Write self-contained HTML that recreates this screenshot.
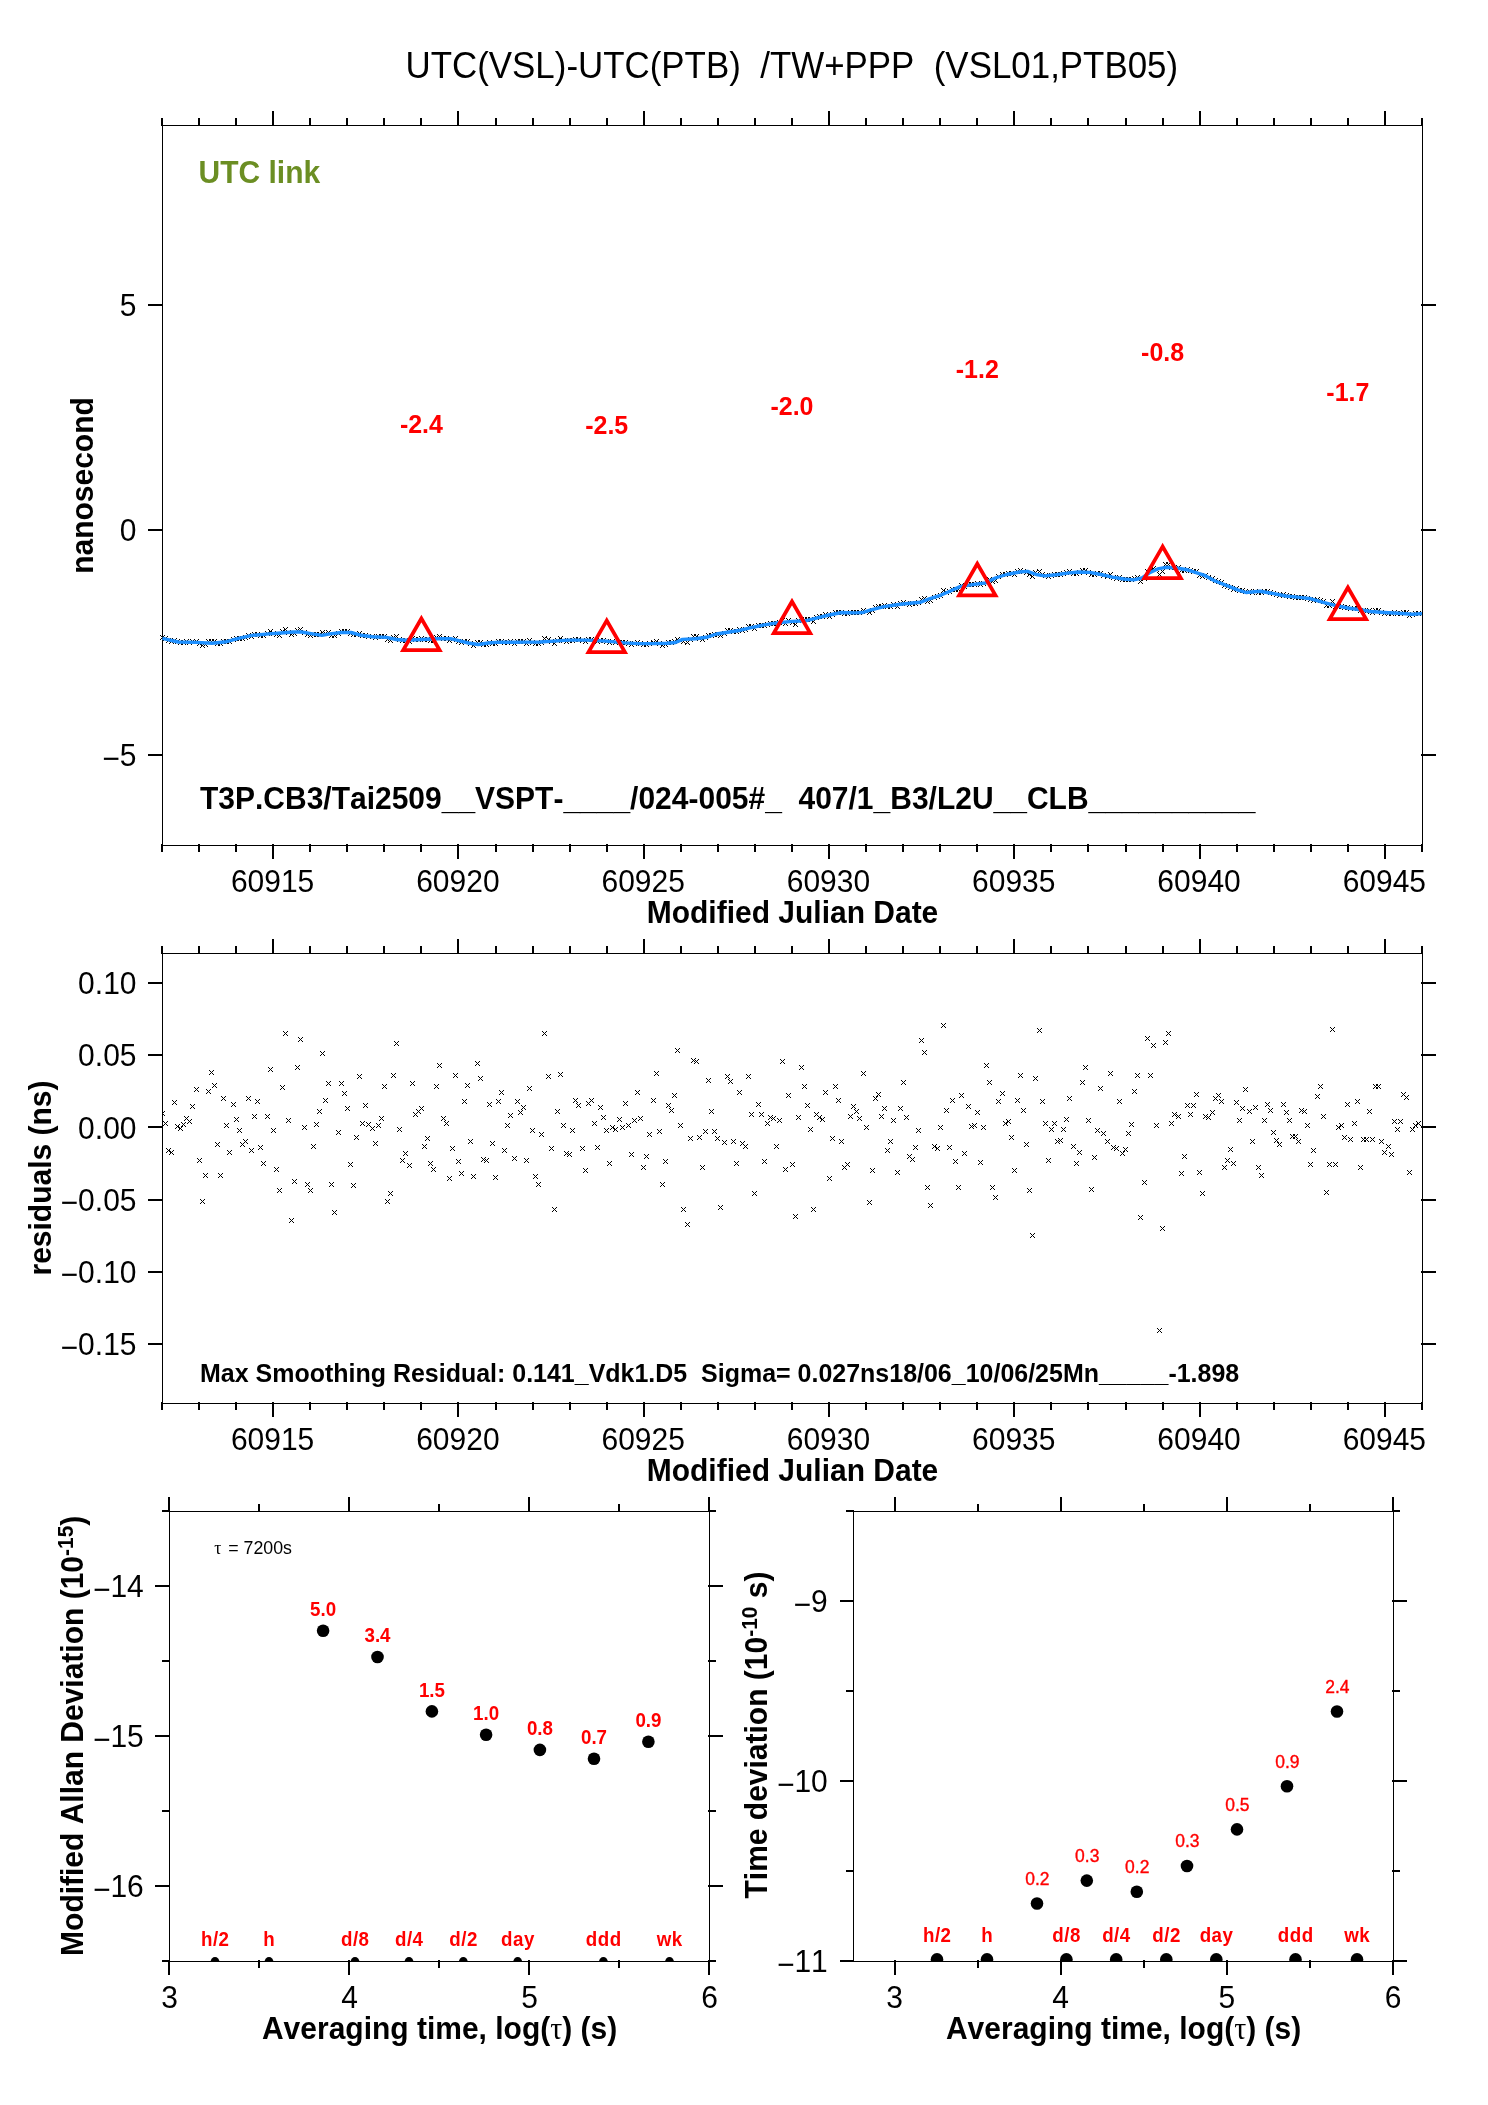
<!DOCTYPE html>
<html><head><meta charset="utf-8"><title>UTC(VSL)-UTC(PTB)</title>
<style>
html,body{margin:0;padding:0;background:#fff;}
svg{display:block;will-change:transform;font-family:"Liberation Sans",sans-serif;font-kerning:none;font-variant-ligatures:none;}
rect{shape-rendering:crispEdges;}
</style></head><body>
<svg width="1488" height="2105" viewBox="0 0 1488 2105">
<rect x="0" y="0" width="1488" height="2105" fill="#fff"/>
<defs><path id="x" d="M-2-2h1v1h-1zM-1-1h1v1h-1zM0 0h1v1h-1zM1 1h1v1h-1zM2 2h1v1h-1zM2-2h1v1h-1zM1-1h1v1h-1zM-1 1h1v1h-1zM-2 2h1v1h-1z" shape-rendering="crispEdges"/></defs>
<rect x="162" y="125" width="1261" height="1" fill="#000"/>
<rect x="162" y="845" width="1261" height="1" fill="#000"/>
<rect x="162" y="125" width="1" height="721" fill="#000"/>
<rect x="1422" y="125" width="1" height="721" fill="#000"/>
<rect x="161" y="118" width="2" height="8" fill="#000"/>
<rect x="198" y="118" width="2" height="8" fill="#000"/>
<rect x="235" y="118" width="2" height="8" fill="#000"/>
<rect x="309" y="118" width="2" height="8" fill="#000"/>
<rect x="346" y="118" width="2" height="8" fill="#000"/>
<rect x="383" y="118" width="2" height="8" fill="#000"/>
<rect x="420" y="118" width="2" height="8" fill="#000"/>
<rect x="495" y="118" width="2" height="8" fill="#000"/>
<rect x="532" y="118" width="2" height="8" fill="#000"/>
<rect x="569" y="118" width="2" height="8" fill="#000"/>
<rect x="606" y="118" width="2" height="8" fill="#000"/>
<rect x="680" y="118" width="2" height="8" fill="#000"/>
<rect x="717" y="118" width="2" height="8" fill="#000"/>
<rect x="754" y="118" width="2" height="8" fill="#000"/>
<rect x="791" y="118" width="2" height="8" fill="#000"/>
<rect x="865" y="118" width="2" height="8" fill="#000"/>
<rect x="902" y="118" width="2" height="8" fill="#000"/>
<rect x="939" y="118" width="2" height="8" fill="#000"/>
<rect x="976" y="118" width="2" height="8" fill="#000"/>
<rect x="1050" y="118" width="2" height="8" fill="#000"/>
<rect x="1087" y="118" width="2" height="8" fill="#000"/>
<rect x="1125" y="118" width="2" height="8" fill="#000"/>
<rect x="1162" y="118" width="2" height="8" fill="#000"/>
<rect x="1236" y="118" width="2" height="8" fill="#000"/>
<rect x="1273" y="118" width="2" height="8" fill="#000"/>
<rect x="1310" y="118" width="2" height="8" fill="#000"/>
<rect x="1347" y="118" width="2" height="8" fill="#000"/>
<rect x="1421" y="118" width="2" height="8" fill="#000"/>
<rect x="272" y="111" width="2" height="15" fill="#000"/>
<rect x="457" y="111" width="2" height="15" fill="#000"/>
<rect x="643" y="111" width="2" height="15" fill="#000"/>
<rect x="828" y="111" width="2" height="15" fill="#000"/>
<rect x="1013" y="111" width="2" height="15" fill="#000"/>
<rect x="1199" y="111" width="2" height="15" fill="#000"/>
<rect x="1384" y="111" width="2" height="15" fill="#000"/>
<rect x="161" y="844" width="2" height="8" fill="#000"/>
<rect x="198" y="844" width="2" height="8" fill="#000"/>
<rect x="235" y="844" width="2" height="8" fill="#000"/>
<rect x="309" y="844" width="2" height="8" fill="#000"/>
<rect x="346" y="844" width="2" height="8" fill="#000"/>
<rect x="383" y="844" width="2" height="8" fill="#000"/>
<rect x="420" y="844" width="2" height="8" fill="#000"/>
<rect x="495" y="844" width="2" height="8" fill="#000"/>
<rect x="532" y="844" width="2" height="8" fill="#000"/>
<rect x="569" y="844" width="2" height="8" fill="#000"/>
<rect x="606" y="844" width="2" height="8" fill="#000"/>
<rect x="680" y="844" width="2" height="8" fill="#000"/>
<rect x="717" y="844" width="2" height="8" fill="#000"/>
<rect x="754" y="844" width="2" height="8" fill="#000"/>
<rect x="791" y="844" width="2" height="8" fill="#000"/>
<rect x="865" y="844" width="2" height="8" fill="#000"/>
<rect x="902" y="844" width="2" height="8" fill="#000"/>
<rect x="939" y="844" width="2" height="8" fill="#000"/>
<rect x="976" y="844" width="2" height="8" fill="#000"/>
<rect x="1050" y="844" width="2" height="8" fill="#000"/>
<rect x="1087" y="844" width="2" height="8" fill="#000"/>
<rect x="1125" y="844" width="2" height="8" fill="#000"/>
<rect x="1162" y="844" width="2" height="8" fill="#000"/>
<rect x="1236" y="844" width="2" height="8" fill="#000"/>
<rect x="1273" y="844" width="2" height="8" fill="#000"/>
<rect x="1310" y="844" width="2" height="8" fill="#000"/>
<rect x="1347" y="844" width="2" height="8" fill="#000"/>
<rect x="1421" y="844" width="2" height="8" fill="#000"/>
<rect x="272" y="844" width="2" height="15" fill="#000"/>
<rect x="457" y="844" width="2" height="15" fill="#000"/>
<rect x="643" y="844" width="2" height="15" fill="#000"/>
<rect x="828" y="844" width="2" height="15" fill="#000"/>
<rect x="1013" y="844" width="2" height="15" fill="#000"/>
<rect x="1199" y="844" width="2" height="15" fill="#000"/>
<rect x="1384" y="844" width="2" height="15" fill="#000"/>
<rect x="148" y="304" width="15" height="2" fill="#000"/>
<rect x="148" y="529" width="15" height="2" fill="#000"/>
<rect x="148" y="754" width="15" height="2" fill="#000"/>
<rect x="1421" y="304" width="15" height="2" fill="#000"/>
<rect x="1421" y="529" width="15" height="2" fill="#000"/>
<rect x="1421" y="754" width="15" height="2" fill="#000"/>
<text transform="translate(136.5 316.3) scale(1 1.045)" font-size="30" text-anchor="end" fill="#000" >5</text>
<text transform="translate(136.5 541.3) scale(1 1.045)" font-size="30" text-anchor="end" fill="#000" >0</text>
<text transform="translate(136.5 766.3) scale(1 1.045)" font-size="30" text-anchor="end" fill="#000" ><tspan dy="2.3">−</tspan><tspan dy="-2.3">5</tspan></text>
<text transform="translate(272.5764705882353 891.9) scale(1 1.045)" font-size="30" text-anchor="middle" fill="#000" >60915</text>
<text transform="translate(457.8705882352941 891.9) scale(1 1.045)" font-size="30" text-anchor="middle" fill="#000" >60920</text>
<text transform="translate(643.1647058823529 891.9) scale(1 1.045)" font-size="30" text-anchor="middle" fill="#000" >60925</text>
<text transform="translate(828.4588235294117 891.9) scale(1 1.045)" font-size="30" text-anchor="middle" fill="#000" >60930</text>
<text transform="translate(1013.7529411764706 891.9) scale(1 1.045)" font-size="30" text-anchor="middle" fill="#000" >60935</text>
<text transform="translate(1199.0470588235296 891.9) scale(1 1.045)" font-size="30" text-anchor="middle" fill="#000" >60940</text>
<text transform="translate(1384.3411764705884 891.9) scale(1 1.045)" font-size="30" text-anchor="middle" fill="#000" >60945</text>
<text transform="translate(792.5 922.8) scale(1 1.045)" font-size="30" font-weight="bold" text-anchor="middle" fill="#000" >Modified Julian Date</text>
<text transform="translate(93 485.5) rotate(-90) scale(1 1.045)" font-size="30" font-weight="bold" text-anchor="middle" fill="#000" >nanosecond</text>
<text transform="translate(791.8 77.7) scale(1 1.045)" font-size="34.9" text-anchor="middle" fill="#000" >UTC(VSL)-UTC(PTB)&#160;&#160;/TW+PPP&#160;&#160;(VSL01,PTB05)</text>
<text transform="translate(198.5 182.8) scale(1 1.045)" font-size="30" font-weight="bold" text-anchor="start" fill="#6b8e23" >UTC link</text>
<text transform="translate(200 809) scale(1 1.045)" font-size="30" font-weight="bold" text-anchor="start" fill="#000" >T3P.CB3/Tai2509__VSPT-____/024-005#_&#160;&#160;407/1_B3/L2U__CLB__________</text>
<use href="#x" x="162" y="637"/><use href="#x" x="165" y="638"/><use href="#x" x="168" y="640"/><use href="#x" x="171" y="641"/><use href="#x" x="174" y="640"/><use href="#x" x="177" y="641"/><use href="#x" x="180" y="642"/><use href="#x" x="183" y="642"/><use href="#x" x="186" y="641"/><use href="#x" x="189" y="642"/><use href="#x" x="192" y="641"/><use href="#x" x="196" y="641"/><use href="#x" x="199" y="643"/><use href="#x" x="202" y="645"/><use href="#x" x="205" y="644"/><use href="#x" x="208" y="641"/><use href="#x" x="211" y="641"/><use href="#x" x="214" y="641"/><use href="#x" x="217" y="643"/><use href="#x" x="220" y="643"/><use href="#x" x="223" y="641"/><use href="#x" x="226" y="641"/><use href="#x" x="229" y="641"/><use href="#x" x="233" y="639"/><use href="#x" x="236" y="638"/><use href="#x" x="239" y="638"/><use href="#x" x="242" y="638"/><use href="#x" x="245" y="637"/><use href="#x" x="248" y="635"/><use href="#x" x="251" y="636"/><use href="#x" x="254" y="634"/><use href="#x" x="257" y="634"/><use href="#x" x="260" y="635"/><use href="#x" x="263" y="635"/><use href="#x" x="267" y="633"/><use href="#x" x="270" y="631"/><use href="#x" x="273" y="633"/><use href="#x" x="276" y="634"/><use href="#x" x="279" y="635"/><use href="#x" x="282" y="631"/><use href="#x" x="285" y="629"/><use href="#x" x="288" y="632"/><use href="#x" x="291" y="634"/><use href="#x" x="294" y="633"/><use href="#x" x="297" y="630"/><use href="#x" x="300" y="629"/><use href="#x" x="304" y="632"/><use href="#x" x="307" y="634"/><use href="#x" x="310" y="635"/><use href="#x" x="313" y="634"/><use href="#x" x="316" y="634"/><use href="#x" x="319" y="634"/><use href="#x" x="322" y="632"/><use href="#x" x="325" y="633"/><use href="#x" x="328" y="632"/><use href="#x" x="331" y="635"/><use href="#x" x="334" y="635"/><use href="#x" x="338" y="633"/><use href="#x" x="341" y="631"/><use href="#x" x="344" y="631"/><use href="#x" x="347" y="631"/><use href="#x" x="350" y="633"/><use href="#x" x="353" y="634"/><use href="#x" x="356" y="634"/><use href="#x" x="359" y="633"/><use href="#x" x="362" y="635"/><use href="#x" x="365" y="635"/><use href="#x" x="368" y="636"/><use href="#x" x="372" y="636"/><use href="#x" x="375" y="637"/><use href="#x" x="378" y="636"/><use href="#x" x="381" y="636"/><use href="#x" x="384" y="636"/><use href="#x" x="387" y="639"/><use href="#x" x="390" y="640"/><use href="#x" x="393" y="637"/><use href="#x" x="396" y="636"/><use href="#x" x="399" y="639"/><use href="#x" x="402" y="640"/><use href="#x" x="405" y="640"/><use href="#x" x="409" y="641"/><use href="#x" x="412" y="638"/><use href="#x" x="415" y="639"/><use href="#x" x="418" y="639"/><use href="#x" x="421" y="638"/><use href="#x" x="424" y="639"/><use href="#x" x="427" y="639"/><use href="#x" x="430" y="640"/><use href="#x" x="433" y="640"/><use href="#x" x="436" y="637"/><use href="#x" x="439" y="636"/><use href="#x" x="443" y="638"/><use href="#x" x="446" y="638"/><use href="#x" x="449" y="640"/><use href="#x" x="452" y="639"/><use href="#x" x="455" y="638"/><use href="#x" x="458" y="641"/><use href="#x" x="461" y="642"/><use href="#x" x="464" y="641"/><use href="#x" x="467" y="641"/><use href="#x" x="470" y="643"/><use href="#x" x="473" y="645"/><use href="#x" x="477" y="642"/><use href="#x" x="480" y="642"/><use href="#x" x="483" y="644"/><use href="#x" x="486" y="644"/><use href="#x" x="489" y="642"/><use href="#x" x="492" y="643"/><use href="#x" x="495" y="643"/><use href="#x" x="498" y="641"/><use href="#x" x="501" y="641"/><use href="#x" x="504" y="642"/><use href="#x" x="507" y="642"/><use href="#x" x="510" y="641"/><use href="#x" x="514" y="643"/><use href="#x" x="517" y="641"/><use href="#x" x="520" y="641"/><use href="#x" x="523" y="641"/><use href="#x" x="526" y="643"/><use href="#x" x="529" y="640"/><use href="#x" x="532" y="642"/><use href="#x" x="535" y="643"/><use href="#x" x="538" y="643"/><use href="#x" x="541" y="642"/><use href="#x" x="544" y="638"/><use href="#x" x="548" y="639"/><use href="#x" x="551" y="641"/><use href="#x" x="554" y="643"/><use href="#x" x="557" y="640"/><use href="#x" x="560" y="638"/><use href="#x" x="563" y="640"/><use href="#x" x="566" y="641"/><use href="#x" x="569" y="640"/><use href="#x" x="572" y="640"/><use href="#x" x="575" y="639"/><use href="#x" x="578" y="639"/><use href="#x" x="582" y="640"/><use href="#x" x="585" y="641"/><use href="#x" x="588" y="639"/><use href="#x" x="591" y="639"/><use href="#x" x="594" y="640"/><use href="#x" x="597" y="641"/><use href="#x" x="600" y="640"/><use href="#x" x="603" y="640"/><use href="#x" x="606" y="641"/><use href="#x" x="609" y="642"/><use href="#x" x="612" y="641"/><use href="#x" x="615" y="642"/><use href="#x" x="619" y="642"/><use href="#x" x="622" y="642"/><use href="#x" x="625" y="642"/><use href="#x" x="628" y="643"/><use href="#x" x="631" y="644"/><use href="#x" x="634" y="643"/><use href="#x" x="637" y="642"/><use href="#x" x="640" y="643"/><use href="#x" x="643" y="644"/><use href="#x" x="646" y="644"/><use href="#x" x="649" y="643"/><use href="#x" x="653" y="642"/><use href="#x" x="656" y="641"/><use href="#x" x="659" y="643"/><use href="#x" x="662" y="645"/><use href="#x" x="665" y="644"/><use href="#x" x="668" y="642"/><use href="#x" x="671" y="642"/><use href="#x" x="674" y="641"/><use href="#x" x="677" y="639"/><use href="#x" x="680" y="640"/><use href="#x" x="683" y="641"/><use href="#x" x="687" y="642"/><use href="#x" x="690" y="639"/><use href="#x" x="693" y="636"/><use href="#x" x="696" y="636"/><use href="#x" x="699" y="638"/><use href="#x" x="702" y="639"/><use href="#x" x="705" y="637"/><use href="#x" x="708" y="635"/><use href="#x" x="711" y="635"/><use href="#x" x="714" y="634"/><use href="#x" x="717" y="634"/><use href="#x" x="720" y="635"/><use href="#x" x="724" y="633"/><use href="#x" x="727" y="630"/><use href="#x" x="730" y="630"/><use href="#x" x="733" y="631"/><use href="#x" x="736" y="631"/><use href="#x" x="739" y="629"/><use href="#x" x="742" y="630"/><use href="#x" x="745" y="629"/><use href="#x" x="748" y="626"/><use href="#x" x="751" y="626"/><use href="#x" x="754" y="628"/><use href="#x" x="758" y="625"/><use href="#x" x="761" y="625"/><use href="#x" x="764" y="625"/><use href="#x" x="767" y="624"/><use href="#x" x="770" y="623"/><use href="#x" x="773" y="623"/><use href="#x" x="776" y="623"/><use href="#x" x="779" y="622"/><use href="#x" x="782" y="620"/><use href="#x" x="785" y="623"/><use href="#x" x="788" y="620"/><use href="#x" x="792" y="622"/><use href="#x" x="795" y="624"/><use href="#x" x="798" y="620"/><use href="#x" x="801" y="619"/><use href="#x" x="804" y="619"/><use href="#x" x="807" y="619"/><use href="#x" x="810" y="619"/><use href="#x" x="813" y="621"/><use href="#x" x="816" y="617"/><use href="#x" x="819" y="616"/><use href="#x" x="822" y="616"/><use href="#x" x="825" y="614"/><use href="#x" x="829" y="616"/><use href="#x" x="832" y="614"/><use href="#x" x="835" y="612"/><use href="#x" x="838" y="612"/><use href="#x" x="841" y="612"/><use href="#x" x="844" y="613"/><use href="#x" x="847" y="613"/><use href="#x" x="850" y="612"/><use href="#x" x="853" y="612"/><use href="#x" x="856" y="612"/><use href="#x" x="859" y="612"/><use href="#x" x="863" y="610"/><use href="#x" x="866" y="611"/><use href="#x" x="869" y="612"/><use href="#x" x="872" y="610"/><use href="#x" x="875" y="607"/><use href="#x" x="878" y="606"/><use href="#x" x="881" y="606"/><use href="#x" x="884" y="605"/><use href="#x" x="887" y="606"/><use href="#x" x="890" y="606"/><use href="#x" x="893" y="604"/><use href="#x" x="897" y="606"/><use href="#x" x="900" y="603"/><use href="#x" x="903" y="602"/><use href="#x" x="906" y="603"/><use href="#x" x="909" y="604"/><use href="#x" x="912" y="603"/><use href="#x" x="915" y="603"/><use href="#x" x="918" y="602"/><use href="#x" x="921" y="599"/><use href="#x" x="924" y="598"/><use href="#x" x="927" y="601"/><use href="#x" x="930" y="600"/><use href="#x" x="934" y="597"/><use href="#x" x="937" y="596"/><use href="#x" x="940" y="595"/><use href="#x" x="943" y="590"/><use href="#x" x="946" y="592"/><use href="#x" x="949" y="591"/><use href="#x" x="952" y="589"/><use href="#x" x="955" y="589"/><use href="#x" x="958" y="589"/><use href="#x" x="961" y="585"/><use href="#x" x="964" y="586"/><use href="#x" x="968" y="584"/><use href="#x" x="971" y="584"/><use href="#x" x="974" y="584"/><use href="#x" x="977" y="583"/><use href="#x" x="980" y="584"/><use href="#x" x="983" y="583"/><use href="#x" x="986" y="580"/><use href="#x" x="989" y="579"/><use href="#x" x="992" y="581"/><use href="#x" x="995" y="580"/><use href="#x" x="998" y="576"/><use href="#x" x="1002" y="574"/><use href="#x" x="1005" y="574"/><use href="#x" x="1008" y="573"/><use href="#x" x="1011" y="573"/><use href="#x" x="1014" y="574"/><use href="#x" x="1017" y="571"/><use href="#x" x="1020" y="570"/><use href="#x" x="1023" y="571"/><use href="#x" x="1026" y="572"/><use href="#x" x="1029" y="574"/><use href="#x" x="1032" y="576"/><use href="#x" x="1035" y="572"/><use href="#x" x="1039" y="571"/><use href="#x" x="1042" y="574"/><use href="#x" x="1045" y="575"/><use href="#x" x="1048" y="576"/><use href="#x" x="1051" y="575"/><use href="#x" x="1054" y="574"/><use href="#x" x="1057" y="574"/><use href="#x" x="1060" y="574"/><use href="#x" x="1063" y="573"/><use href="#x" x="1066" y="572"/><use href="#x" x="1069" y="571"/><use href="#x" x="1073" y="573"/><use href="#x" x="1076" y="573"/><use href="#x" x="1079" y="572"/><use href="#x" x="1082" y="570"/><use href="#x" x="1085" y="570"/><use href="#x" x="1088" y="572"/><use href="#x" x="1091" y="574"/><use href="#x" x="1094" y="574"/><use href="#x" x="1097" y="573"/><use href="#x" x="1100" y="573"/><use href="#x" x="1103" y="575"/><use href="#x" x="1107" y="576"/><use href="#x" x="1110" y="574"/><use href="#x" x="1113" y="577"/><use href="#x" x="1116" y="578"/><use href="#x" x="1119" y="577"/><use href="#x" x="1122" y="579"/><use href="#x" x="1125" y="579"/><use href="#x" x="1128" y="579"/><use href="#x" x="1131" y="579"/><use href="#x" x="1134" y="578"/><use href="#x" x="1137" y="577"/><use href="#x" x="1140" y="581"/><use href="#x" x="1144" y="578"/><use href="#x" x="1147" y="571"/><use href="#x" x="1150" y="570"/><use href="#x" x="1153" y="568"/><use href="#x" x="1156" y="569"/><use href="#x" x="1159" y="574"/><use href="#x" x="1162" y="571"/><use href="#x" x="1165" y="564"/><use href="#x" x="1168" y="564"/><use href="#x" x="1171" y="567"/><use href="#x" x="1174" y="567"/><use href="#x" x="1178" y="567"/><use href="#x" x="1181" y="570"/><use href="#x" x="1184" y="570"/><use href="#x" x="1187" y="569"/><use href="#x" x="1190" y="570"/><use href="#x" x="1193" y="571"/><use href="#x" x="1196" y="571"/><use href="#x" x="1199" y="575"/><use href="#x" x="1202" y="576"/><use href="#x" x="1205" y="575"/><use href="#x" x="1208" y="577"/><use href="#x" x="1212" y="578"/><use href="#x" x="1215" y="580"/><use href="#x" x="1218" y="581"/><use href="#x" x="1221" y="582"/><use href="#x" x="1224" y="585"/><use href="#x" x="1227" y="586"/><use href="#x" x="1230" y="587"/><use href="#x" x="1233" y="589"/><use href="#x" x="1236" y="588"/><use href="#x" x="1239" y="590"/><use href="#x" x="1242" y="590"/><use href="#x" x="1245" y="591"/><use href="#x" x="1249" y="591"/><use href="#x" x="1252" y="592"/><use href="#x" x="1255" y="591"/><use href="#x" x="1258" y="592"/><use href="#x" x="1261" y="592"/><use href="#x" x="1264" y="591"/><use href="#x" x="1267" y="591"/><use href="#x" x="1270" y="592"/><use href="#x" x="1273" y="593"/><use href="#x" x="1276" y="594"/><use href="#x" x="1279" y="595"/><use href="#x" x="1283" y="594"/><use href="#x" x="1286" y="595"/><use href="#x" x="1289" y="596"/><use href="#x" x="1292" y="596"/><use href="#x" x="1295" y="597"/><use href="#x" x="1298" y="597"/><use href="#x" x="1301" y="597"/><use href="#x" x="1304" y="597"/><use href="#x" x="1307" y="598"/><use href="#x" x="1310" y="599"/><use href="#x" x="1313" y="600"/><use href="#x" x="1317" y="599"/><use href="#x" x="1320" y="600"/><use href="#x" x="1323" y="601"/><use href="#x" x="1326" y="605"/><use href="#x" x="1329" y="605"/><use href="#x" x="1332" y="601"/><use href="#x" x="1335" y="606"/><use href="#x" x="1338" y="606"/><use href="#x" x="1341" y="606"/><use href="#x" x="1344" y="607"/><use href="#x" x="1347" y="607"/><use href="#x" x="1350" y="608"/><use href="#x" x="1354" y="608"/><use href="#x" x="1357" y="608"/><use href="#x" x="1360" y="610"/><use href="#x" x="1363" y="610"/><use href="#x" x="1366" y="611"/><use href="#x" x="1369" y="610"/><use href="#x" x="1372" y="612"/><use href="#x" x="1375" y="610"/><use href="#x" x="1378" y="610"/><use href="#x" x="1381" y="612"/><use href="#x" x="1384" y="613"/><use href="#x" x="1388" y="613"/><use href="#x" x="1391" y="613"/><use href="#x" x="1394" y="612"/><use href="#x" x="1397" y="613"/><use href="#x" x="1400" y="613"/><use href="#x" x="1403" y="612"/><use href="#x" x="1406" y="612"/><use href="#x" x="1409" y="615"/><use href="#x" x="1412" y="614"/><use href="#x" x="1415" y="613"/><use href="#x" x="1418" y="613"/>
<polyline points="162.4,638.4 178.1,642.0 196.3,642.4 212.0,643.3 226.5,641.7 238.6,638.4 251.9,635.4 268.8,633.9 280.9,633.0 293.0,632.0 301.5,632.0 311.2,633.6 322.0,635.4 330.0,633.9 341.3,632.5 351.2,632.5 361.0,635.3 372.3,636.7 386.4,637.4 396.3,639.5 406.2,640.2 421.7,639.5 437.3,638.8 451.4,638.8 459.8,640.9 468.3,643.0 478.2,644.5 488.1,643.0 499.3,642.1 513.5,642.3 527.6,642.1 540.0,642.0 554.1,641.1 568.2,640.1 586.6,640.1 606.3,641.1 624.7,642.9 638.8,643.6 652.9,643.6 667.0,643.3 675.5,642.5 682.5,639.4 695.2,638.7 706.5,637.3 716.4,634.0 727.7,632.3 740.4,630.2 750.0,627.8 764.1,624.9 778.2,622.8 792.3,621.4 806.4,620.7 816.3,618.1 829.0,615.0 841.7,612.5 855.8,612.9 862.9,612.5 870.0,610.1 884.1,606.6 898.2,604.5 912.3,603.0 920.8,602.3 929.2,598.8 940.5,595.3 950.4,591.0 960.0,586.6 974.1,584.4 985.4,583.0 995.3,578.0 1006.6,574.5 1019.3,572.0 1027.7,571.4 1036.2,574.5 1044.7,575.9 1056.0,574.8 1067.3,573.1 1078.5,572.0 1089.8,572.4 1101.1,574.5 1112.4,577.1 1123.7,579.0 1133.6,579.9 1142.0,578.0 1149.1,573.1 1157.6,568.9 1166.0,567.3 1176.0,568.0 1187.4,569.8 1204.8,575.4 1215.0,581.0 1226.3,585.4 1237.6,589.9 1246.0,592.5 1260.2,591.3 1271.4,593.2 1285.6,596.0 1299.7,597.4 1311.0,598.8 1322.3,602.1 1335.0,605.4 1347.7,608.0 1360.4,609.7 1370.2,611.5 1384.3,612.5 1398.5,613.3 1412.6,614.3 1422.0,613.6" fill="none" stroke="#1e90ff" stroke-width="3.4" stroke-linejoin="round"/>
<polygon points="421.4,618.5 403.2,650.0 439.6,650.0" fill="none" stroke="#f00" stroke-width="3.75"/>
<text transform="translate(421.4117647058824 433.1) scale(1 1.045)" font-size="25" font-weight="bold" text-anchor="middle" fill="#f00" >-2.4</text>
<polygon points="606.7,620.6 588.5,652.1 624.9,652.1" fill="none" stroke="#f00" stroke-width="3.75"/>
<text transform="translate(606.7058823529412 433.8) scale(1 1.045)" font-size="25" font-weight="bold" text-anchor="middle" fill="#f00" >-2.5</text>
<polygon points="792.0,601.5 773.8,633.0 810.2,633.0" fill="none" stroke="#f00" stroke-width="3.75"/>
<text transform="translate(792.0 414.7) scale(1 1.045)" font-size="25" font-weight="bold" text-anchor="middle" fill="#f00" >-2.0</text>
<polygon points="977.3,563.8 959.1,595.3 995.5,595.3" fill="none" stroke="#f00" stroke-width="3.75"/>
<text transform="translate(977.2941176470588 377.7) scale(1 1.045)" font-size="25" font-weight="bold" text-anchor="middle" fill="#f00" >-1.2</text>
<polygon points="1162.6,546.6 1144.4,578.1 1180.8,578.1" fill="none" stroke="#f00" stroke-width="3.75"/>
<text transform="translate(1162.5882352941176 360.5) scale(1 1.045)" font-size="25" font-weight="bold" text-anchor="middle" fill="#f00" >-0.8</text>
<polygon points="1347.9,587.5 1329.7,619.0 1366.1,619.0" fill="none" stroke="#f00" stroke-width="3.75"/>
<text transform="translate(1347.8823529411766 400.5) scale(1 1.045)" font-size="25" font-weight="bold" text-anchor="middle" fill="#f00" >-1.7</text>
<rect x="162" y="953" width="1261" height="1" fill="#000"/>
<rect x="162" y="1403" width="1261" height="1" fill="#000"/>
<rect x="162" y="953" width="1" height="451" fill="#000"/>
<rect x="1422" y="953" width="1" height="451" fill="#000"/>
<rect x="161" y="946" width="2" height="8" fill="#000"/>
<rect x="198" y="946" width="2" height="8" fill="#000"/>
<rect x="235" y="946" width="2" height="8" fill="#000"/>
<rect x="309" y="946" width="2" height="8" fill="#000"/>
<rect x="346" y="946" width="2" height="8" fill="#000"/>
<rect x="383" y="946" width="2" height="8" fill="#000"/>
<rect x="420" y="946" width="2" height="8" fill="#000"/>
<rect x="495" y="946" width="2" height="8" fill="#000"/>
<rect x="532" y="946" width="2" height="8" fill="#000"/>
<rect x="569" y="946" width="2" height="8" fill="#000"/>
<rect x="606" y="946" width="2" height="8" fill="#000"/>
<rect x="680" y="946" width="2" height="8" fill="#000"/>
<rect x="717" y="946" width="2" height="8" fill="#000"/>
<rect x="754" y="946" width="2" height="8" fill="#000"/>
<rect x="791" y="946" width="2" height="8" fill="#000"/>
<rect x="865" y="946" width="2" height="8" fill="#000"/>
<rect x="902" y="946" width="2" height="8" fill="#000"/>
<rect x="939" y="946" width="2" height="8" fill="#000"/>
<rect x="976" y="946" width="2" height="8" fill="#000"/>
<rect x="1050" y="946" width="2" height="8" fill="#000"/>
<rect x="1087" y="946" width="2" height="8" fill="#000"/>
<rect x="1125" y="946" width="2" height="8" fill="#000"/>
<rect x="1162" y="946" width="2" height="8" fill="#000"/>
<rect x="1236" y="946" width="2" height="8" fill="#000"/>
<rect x="1273" y="946" width="2" height="8" fill="#000"/>
<rect x="1310" y="946" width="2" height="8" fill="#000"/>
<rect x="1347" y="946" width="2" height="8" fill="#000"/>
<rect x="1421" y="946" width="2" height="8" fill="#000"/>
<rect x="272" y="939" width="2" height="15" fill="#000"/>
<rect x="457" y="939" width="2" height="15" fill="#000"/>
<rect x="643" y="939" width="2" height="15" fill="#000"/>
<rect x="828" y="939" width="2" height="15" fill="#000"/>
<rect x="1013" y="939" width="2" height="15" fill="#000"/>
<rect x="1199" y="939" width="2" height="15" fill="#000"/>
<rect x="1384" y="939" width="2" height="15" fill="#000"/>
<rect x="161" y="1402" width="2" height="8" fill="#000"/>
<rect x="198" y="1402" width="2" height="8" fill="#000"/>
<rect x="235" y="1402" width="2" height="8" fill="#000"/>
<rect x="309" y="1402" width="2" height="8" fill="#000"/>
<rect x="346" y="1402" width="2" height="8" fill="#000"/>
<rect x="383" y="1402" width="2" height="8" fill="#000"/>
<rect x="420" y="1402" width="2" height="8" fill="#000"/>
<rect x="495" y="1402" width="2" height="8" fill="#000"/>
<rect x="532" y="1402" width="2" height="8" fill="#000"/>
<rect x="569" y="1402" width="2" height="8" fill="#000"/>
<rect x="606" y="1402" width="2" height="8" fill="#000"/>
<rect x="680" y="1402" width="2" height="8" fill="#000"/>
<rect x="717" y="1402" width="2" height="8" fill="#000"/>
<rect x="754" y="1402" width="2" height="8" fill="#000"/>
<rect x="791" y="1402" width="2" height="8" fill="#000"/>
<rect x="865" y="1402" width="2" height="8" fill="#000"/>
<rect x="902" y="1402" width="2" height="8" fill="#000"/>
<rect x="939" y="1402" width="2" height="8" fill="#000"/>
<rect x="976" y="1402" width="2" height="8" fill="#000"/>
<rect x="1050" y="1402" width="2" height="8" fill="#000"/>
<rect x="1087" y="1402" width="2" height="8" fill="#000"/>
<rect x="1125" y="1402" width="2" height="8" fill="#000"/>
<rect x="1162" y="1402" width="2" height="8" fill="#000"/>
<rect x="1236" y="1402" width="2" height="8" fill="#000"/>
<rect x="1273" y="1402" width="2" height="8" fill="#000"/>
<rect x="1310" y="1402" width="2" height="8" fill="#000"/>
<rect x="1347" y="1402" width="2" height="8" fill="#000"/>
<rect x="1421" y="1402" width="2" height="8" fill="#000"/>
<rect x="272" y="1402" width="2" height="15" fill="#000"/>
<rect x="457" y="1402" width="2" height="15" fill="#000"/>
<rect x="643" y="1402" width="2" height="15" fill="#000"/>
<rect x="828" y="1402" width="2" height="15" fill="#000"/>
<rect x="1013" y="1402" width="2" height="15" fill="#000"/>
<rect x="1199" y="1402" width="2" height="15" fill="#000"/>
<rect x="1384" y="1402" width="2" height="15" fill="#000"/>
<rect x="148" y="982" width="15" height="2" fill="#000"/>
<rect x="148" y="1054" width="15" height="2" fill="#000"/>
<rect x="148" y="1126" width="15" height="2" fill="#000"/>
<rect x="148" y="1199" width="15" height="2" fill="#000"/>
<rect x="148" y="1271" width="15" height="2" fill="#000"/>
<rect x="148" y="1343" width="15" height="2" fill="#000"/>
<rect x="1421" y="982" width="15" height="2" fill="#000"/>
<rect x="1421" y="1054" width="15" height="2" fill="#000"/>
<rect x="1421" y="1126" width="15" height="2" fill="#000"/>
<rect x="1421" y="1199" width="15" height="2" fill="#000"/>
<rect x="1421" y="1271" width="15" height="2" fill="#000"/>
<rect x="1421" y="1343" width="15" height="2" fill="#000"/>
<text transform="translate(136.5 994.1000000000001) scale(1 1.045)" font-size="30" text-anchor="end" fill="#000" >0.10</text>
<text transform="translate(136.5 1066.3) scale(1 1.045)" font-size="30" text-anchor="end" fill="#000" >0.05</text>
<text transform="translate(136.5 1138.5) scale(1 1.045)" font-size="30" text-anchor="end" fill="#000" >0.00</text>
<text transform="translate(136.5 1210.7) scale(1 1.045)" font-size="30" text-anchor="end" fill="#000" ><tspan dy="2.3">−</tspan><tspan dy="-2.3">0.05</tspan></text>
<text transform="translate(136.5 1282.9) scale(1 1.045)" font-size="30" text-anchor="end" fill="#000" ><tspan dy="2.3">−</tspan><tspan dy="-2.3">0.10</tspan></text>
<text transform="translate(136.5 1355.1) scale(1 1.045)" font-size="30" text-anchor="end" fill="#000" ><tspan dy="2.3">−</tspan><tspan dy="-2.3">0.15</tspan></text>
<text transform="translate(272.5764705882353 1449.9) scale(1 1.045)" font-size="30" text-anchor="middle" fill="#000" >60915</text>
<text transform="translate(457.8705882352941 1449.9) scale(1 1.045)" font-size="30" text-anchor="middle" fill="#000" >60920</text>
<text transform="translate(643.1647058823529 1449.9) scale(1 1.045)" font-size="30" text-anchor="middle" fill="#000" >60925</text>
<text transform="translate(828.4588235294117 1449.9) scale(1 1.045)" font-size="30" text-anchor="middle" fill="#000" >60930</text>
<text transform="translate(1013.7529411764706 1449.9) scale(1 1.045)" font-size="30" text-anchor="middle" fill="#000" >60935</text>
<text transform="translate(1199.0470588235296 1449.9) scale(1 1.045)" font-size="30" text-anchor="middle" fill="#000" >60940</text>
<text transform="translate(1384.3411764705884 1449.9) scale(1 1.045)" font-size="30" text-anchor="middle" fill="#000" >60945</text>
<text transform="translate(792.5 1480.8) scale(1 1.045)" font-size="30" font-weight="bold" text-anchor="middle" fill="#000" >Modified Julian Date</text>
<text transform="translate(51.4 1178) rotate(-90) scale(1 1.045)" font-size="30" font-weight="bold" text-anchor="middle" fill="#000" >residuals (ns)</text>
<text transform="translate(200 1382) scale(1 1.045)" font-size="25" font-weight="bold" text-anchor="start" fill="#000" >Max Smoothing Residual: 0.141_Vdk1.D5&#160;&#160;Sigma= 0.027ns18/06_10/06/25Mn_____-1.898</text>
<clipPath id="c2"><rect x="162" y="953" width="1261" height="451"/></clipPath><g clip-path="url(#c2)">
<use href="#x" x="162" y="1113"/><use href="#x" x="165" y="1123"/><use href="#x" x="168" y="1150"/><use href="#x" x="171" y="1152"/><use href="#x" x="174" y="1102"/><use href="#x" x="177" y="1126"/><use href="#x" x="180" y="1128"/><use href="#x" x="183" y="1124"/><use href="#x" x="186" y="1118"/><use href="#x" x="189" y="1121"/><use href="#x" x="192" y="1106"/><use href="#x" x="196" y="1089"/><use href="#x" x="199" y="1160"/><use href="#x" x="202" y="1201"/><use href="#x" x="205" y="1175"/><use href="#x" x="208" y="1091"/><use href="#x" x="211" y="1072"/><use href="#x" x="214" y="1085"/><use href="#x" x="217" y="1144"/><use href="#x" x="220" y="1175"/><use href="#x" x="223" y="1098"/><use href="#x" x="226" y="1125"/><use href="#x" x="229" y="1152"/><use href="#x" x="233" y="1104"/><use href="#x" x="236" y="1119"/><use href="#x" x="239" y="1130"/><use href="#x" x="242" y="1144"/><use href="#x" x="245" y="1141"/><use href="#x" x="248" y="1098"/><use href="#x" x="251" y="1150"/><use href="#x" x="254" y="1116"/><use href="#x" x="257" y="1101"/><use href="#x" x="260" y="1147"/><use href="#x" x="263" y="1163"/><use href="#x" x="267" y="1116"/><use href="#x" x="270" y="1069"/><use href="#x" x="273" y="1130"/><use href="#x" x="276" y="1169"/><use href="#x" x="279" y="1190"/><use href="#x" x="282" y="1087"/><use href="#x" x="285" y="1033"/><use href="#x" x="288" y="1120"/><use href="#x" x="291" y="1220"/><use href="#x" x="294" y="1181"/><use href="#x" x="297" y="1067"/><use href="#x" x="300" y="1039"/><use href="#x" x="304" y="1127"/><use href="#x" x="307" y="1184"/><use href="#x" x="310" y="1190"/><use href="#x" x="313" y="1146"/><use href="#x" x="316" y="1124"/><use href="#x" x="319" y="1111"/><use href="#x" x="322" y="1053"/><use href="#x" x="325" y="1100"/><use href="#x" x="328" y="1083"/><use href="#x" x="331" y="1184"/><use href="#x" x="334" y="1212"/><use href="#x" x="338" y="1132"/><use href="#x" x="341" y="1083"/><use href="#x" x="344" y="1093"/><use href="#x" x="347" y="1108"/><use href="#x" x="350" y="1164"/><use href="#x" x="353" y="1185"/><use href="#x" x="356" y="1137"/><use href="#x" x="359" y="1076"/><use href="#x" x="362" y="1123"/><use href="#x" x="365" y="1105"/><use href="#x" x="368" y="1124"/><use href="#x" x="372" y="1128"/><use href="#x" x="375" y="1143"/><use href="#x" x="378" y="1125"/><use href="#x" x="381" y="1118"/><use href="#x" x="384" y="1086"/><use href="#x" x="387" y="1201"/><use href="#x" x="390" y="1193"/><use href="#x" x="393" y="1075"/><use href="#x" x="396" y="1043"/><use href="#x" x="399" y="1129"/><use href="#x" x="402" y="1160"/><use href="#x" x="405" y="1153"/><use href="#x" x="409" y="1165"/><use href="#x" x="412" y="1083"/><use href="#x" x="415" y="1114"/><use href="#x" x="418" y="1111"/><use href="#x" x="421" y="1108"/><use href="#x" x="424" y="1146"/><use href="#x" x="427" y="1138"/><use href="#x" x="430" y="1163"/><use href="#x" x="433" y="1169"/><use href="#x" x="436" y="1086"/><use href="#x" x="439" y="1065"/><use href="#x" x="443" y="1118"/><use href="#x" x="446" y="1123"/><use href="#x" x="449" y="1178"/><use href="#x" x="452" y="1148"/><use href="#x" x="455" y="1075"/><use href="#x" x="458" y="1161"/><use href="#x" x="461" y="1173"/><use href="#x" x="464" y="1101"/><use href="#x" x="467" y="1085"/><use href="#x" x="470" y="1141"/><use href="#x" x="473" y="1176"/><use href="#x" x="477" y="1063"/><use href="#x" x="480" y="1078"/><use href="#x" x="483" y="1159"/><use href="#x" x="486" y="1160"/><use href="#x" x="489" y="1104"/><use href="#x" x="492" y="1143"/><use href="#x" x="495" y="1177"/><use href="#x" x="498" y="1101"/><use href="#x" x="501" y="1092"/><use href="#x" x="504" y="1150"/><use href="#x" x="507" y="1125"/><use href="#x" x="510" y="1115"/><use href="#x" x="514" y="1158"/><use href="#x" x="517" y="1101"/><use href="#x" x="520" y="1112"/><use href="#x" x="523" y="1107"/><use href="#x" x="526" y="1160"/><use href="#x" x="529" y="1088"/><use href="#x" x="532" y="1130"/><use href="#x" x="535" y="1176"/><use href="#x" x="538" y="1184"/><use href="#x" x="541" y="1134"/><use href="#x" x="544" y="1033"/><use href="#x" x="548" y="1076"/><use href="#x" x="551" y="1148"/><use href="#x" x="554" y="1209"/><use href="#x" x="557" y="1111"/><use href="#x" x="560" y="1074"/><use href="#x" x="563" y="1125"/><use href="#x" x="566" y="1153"/><use href="#x" x="569" y="1154"/><use href="#x" x="572" y="1130"/><use href="#x" x="575" y="1100"/><use href="#x" x="578" y="1105"/><use href="#x" x="582" y="1148"/><use href="#x" x="585" y="1170"/><use href="#x" x="588" y="1103"/><use href="#x" x="591" y="1100"/><use href="#x" x="594" y="1123"/><use href="#x" x="597" y="1147"/><use href="#x" x="600" y="1107"/><use href="#x" x="603" y="1117"/><use href="#x" x="606" y="1130"/><use href="#x" x="609" y="1163"/><use href="#x" x="612" y="1127"/><use href="#x" x="615" y="1129"/><use href="#x" x="619" y="1119"/><use href="#x" x="622" y="1127"/><use href="#x" x="625" y="1103"/><use href="#x" x="628" y="1125"/><use href="#x" x="631" y="1154"/><use href="#x" x="634" y="1120"/><use href="#x" x="637" y="1092"/><use href="#x" x="640" y="1118"/><use href="#x" x="643" y="1167"/><use href="#x" x="646" y="1156"/><use href="#x" x="649" y="1134"/><use href="#x" x="653" y="1100"/><use href="#x" x="656" y="1073"/><use href="#x" x="659" y="1131"/><use href="#x" x="662" y="1184"/><use href="#x" x="665" y="1161"/><use href="#x" x="668" y="1105"/><use href="#x" x="671" y="1110"/><use href="#x" x="674" y="1095"/><use href="#x" x="677" y="1050"/><use href="#x" x="680" y="1125"/><use href="#x" x="683" y="1209"/><use href="#x" x="687" y="1224"/><use href="#x" x="690" y="1138"/><use href="#x" x="693" y="1060"/><use href="#x" x="696" y="1061"/><use href="#x" x="699" y="1137"/><use href="#x" x="702" y="1167"/><use href="#x" x="705" y="1131"/><use href="#x" x="708" y="1080"/><use href="#x" x="711" y="1111"/><use href="#x" x="714" y="1131"/><use href="#x" x="717" y="1138"/><use href="#x" x="720" y="1207"/><use href="#x" x="724" y="1142"/><use href="#x" x="727" y="1076"/><use href="#x" x="730" y="1081"/><use href="#x" x="733" y="1141"/><use href="#x" x="736" y="1163"/><use href="#x" x="739" y="1092"/><use href="#x" x="742" y="1143"/><use href="#x" x="745" y="1146"/><use href="#x" x="748" y="1076"/><use href="#x" x="751" y="1114"/><use href="#x" x="754" y="1193"/><use href="#x" x="758" y="1104"/><use href="#x" x="761" y="1114"/><use href="#x" x="764" y="1161"/><use href="#x" x="767" y="1123"/><use href="#x" x="770" y="1117"/><use href="#x" x="773" y="1118"/><use href="#x" x="776" y="1146"/><use href="#x" x="779" y="1120"/><use href="#x" x="782" y="1061"/><use href="#x" x="785" y="1169"/><use href="#x" x="788" y="1095"/><use href="#x" x="792" y="1164"/><use href="#x" x="795" y="1216"/><use href="#x" x="798" y="1117"/><use href="#x" x="801" y="1067"/><use href="#x" x="804" y="1086"/><use href="#x" x="807" y="1105"/><use href="#x" x="810" y="1129"/><use href="#x" x="813" y="1209"/><use href="#x" x="816" y="1114"/><use href="#x" x="819" y="1117"/><use href="#x" x="822" y="1119"/><use href="#x" x="825" y="1092"/><use href="#x" x="829" y="1178"/><use href="#x" x="832" y="1138"/><use href="#x" x="835" y="1086"/><use href="#x" x="838" y="1100"/><use href="#x" x="841" y="1141"/><use href="#x" x="844" y="1167"/><use href="#x" x="847" y="1164"/><use href="#x" x="850" y="1116"/><use href="#x" x="853" y="1106"/><use href="#x" x="856" y="1111"/><use href="#x" x="859" y="1118"/><use href="#x" x="863" y="1073"/><use href="#x" x="866" y="1127"/><use href="#x" x="869" y="1202"/><use href="#x" x="872" y="1170"/><use href="#x" x="875" y="1098"/><use href="#x" x="878" y="1094"/><use href="#x" x="881" y="1116"/><use href="#x" x="884" y="1108"/><use href="#x" x="887" y="1150"/><use href="#x" x="890" y="1141"/><use href="#x" x="893" y="1120"/><use href="#x" x="897" y="1172"/><use href="#x" x="900" y="1108"/><use href="#x" x="903" y="1082"/><use href="#x" x="906" y="1117"/><use href="#x" x="909" y="1156"/><use href="#x" x="912" y="1159"/><use href="#x" x="915" y="1147"/><use href="#x" x="918" y="1130"/><use href="#x" x="921" y="1040"/><use href="#x" x="924" y="1052"/><use href="#x" x="927" y="1187"/><use href="#x" x="930" y="1205"/><use href="#x" x="934" y="1146"/><use href="#x" x="937" y="1148"/><use href="#x" x="940" y="1127"/><use href="#x" x="943" y="1025"/><use href="#x" x="946" y="1110"/><use href="#x" x="949" y="1147"/><use href="#x" x="952" y="1100"/><use href="#x" x="955" y="1161"/><use href="#x" x="958" y="1187"/><use href="#x" x="961" y="1095"/><use href="#x" x="964" y="1153"/><use href="#x" x="968" y="1106"/><use href="#x" x="971" y="1126"/><use href="#x" x="974" y="1125"/><use href="#x" x="977" y="1112"/><use href="#x" x="980" y="1162"/><use href="#x" x="983" y="1127"/><use href="#x" x="986" y="1065"/><use href="#x" x="989" y="1082"/><use href="#x" x="992" y="1187"/><use href="#x" x="995" y="1197"/><use href="#x" x="998" y="1101"/><use href="#x" x="1002" y="1093"/><use href="#x" x="1005" y="1123"/><use href="#x" x="1008" y="1121"/><use href="#x" x="1011" y="1137"/><use href="#x" x="1014" y="1170"/><use href="#x" x="1017" y="1100"/><use href="#x" x="1020" y="1075"/><use href="#x" x="1023" y="1110"/><use href="#x" x="1026" y="1144"/><use href="#x" x="1029" y="1190"/><use href="#x" x="1032" y="1235"/><use href="#x" x="1035" y="1078"/><use href="#x" x="1039" y="1030"/><use href="#x" x="1042" y="1101"/><use href="#x" x="1045" y="1123"/><use href="#x" x="1048" y="1160"/><use href="#x" x="1051" y="1129"/><use href="#x" x="1054" y="1123"/><use href="#x" x="1057" y="1141"/><use href="#x" x="1060" y="1140"/><use href="#x" x="1063" y="1129"/><use href="#x" x="1066" y="1119"/><use href="#x" x="1069" y="1098"/><use href="#x" x="1073" y="1146"/><use href="#x" x="1076" y="1163"/><use href="#x" x="1079" y="1152"/><use href="#x" x="1082" y="1082"/><use href="#x" x="1085" y="1067"/><use href="#x" x="1088" y="1120"/><use href="#x" x="1091" y="1189"/><use href="#x" x="1094" y="1157"/><use href="#x" x="1097" y="1130"/><use href="#x" x="1100" y="1088"/><use href="#x" x="1103" y="1133"/><use href="#x" x="1107" y="1141"/><use href="#x" x="1110" y="1073"/><use href="#x" x="1113" y="1147"/><use href="#x" x="1116" y="1148"/><use href="#x" x="1119" y="1101"/><use href="#x" x="1122" y="1153"/><use href="#x" x="1125" y="1149"/><use href="#x" x="1128" y="1133"/><use href="#x" x="1131" y="1124"/><use href="#x" x="1134" y="1091"/><use href="#x" x="1137" y="1075"/><use href="#x" x="1140" y="1217"/><use href="#x" x="1144" y="1182"/><use href="#x" x="1147" y="1038"/><use href="#x" x="1150" y="1075"/><use href="#x" x="1153" y="1045"/><use href="#x" x="1156" y="1125"/><use href="#x" x="1159" y="1330"/><use href="#x" x="1162" y="1228"/><use href="#x" x="1165" y="1042"/><use href="#x" x="1168" y="1033"/><use href="#x" x="1171" y="1123"/><use href="#x" x="1174" y="1114"/><use href="#x" x="1178" y="1116"/><use href="#x" x="1181" y="1173"/><use href="#x" x="1184" y="1156"/><use href="#x" x="1187" y="1105"/><use href="#x" x="1190" y="1114"/><use href="#x" x="1193" y="1105"/><use href="#x" x="1196" y="1094"/><use href="#x" x="1199" y="1172"/><use href="#x" x="1202" y="1193"/><use href="#x" x="1205" y="1116"/><use href="#x" x="1208" y="1117"/><use href="#x" x="1212" y="1112"/><use href="#x" x="1215" y="1098"/><use href="#x" x="1218" y="1095"/><use href="#x" x="1221" y="1101"/><use href="#x" x="1224" y="1167"/><use href="#x" x="1227" y="1160"/><use href="#x" x="1230" y="1149"/><use href="#x" x="1233" y="1163"/><use href="#x" x="1236" y="1102"/><use href="#x" x="1239" y="1120"/><use href="#x" x="1242" y="1108"/><use href="#x" x="1245" y="1089"/><use href="#x" x="1249" y="1111"/><use href="#x" x="1252" y="1141"/><use href="#x" x="1255" y="1107"/><use href="#x" x="1258" y="1167"/><use href="#x" x="1261" y="1175"/><use href="#x" x="1264" y="1120"/><use href="#x" x="1267" y="1104"/><use href="#x" x="1270" y="1110"/><use href="#x" x="1273" y="1132"/><use href="#x" x="1276" y="1140"/><use href="#x" x="1279" y="1144"/><use href="#x" x="1283" y="1104"/><use href="#x" x="1286" y="1112"/><use href="#x" x="1289" y="1120"/><use href="#x" x="1292" y="1136"/><use href="#x" x="1295" y="1136"/><use href="#x" x="1298" y="1141"/><use href="#x" x="1301" y="1110"/><use href="#x" x="1304" y="1111"/><use href="#x" x="1307" y="1125"/><use href="#x" x="1310" y="1164"/><use href="#x" x="1313" y="1150"/><use href="#x" x="1317" y="1096"/><use href="#x" x="1320" y="1086"/><use href="#x" x="1323" y="1116"/><use href="#x" x="1326" y="1192"/><use href="#x" x="1329" y="1164"/><use href="#x" x="1332" y="1029"/><use href="#x" x="1335" y="1164"/><use href="#x" x="1338" y="1127"/><use href="#x" x="1341" y="1125"/><use href="#x" x="1344" y="1137"/><use href="#x" x="1347" y="1104"/><use href="#x" x="1350" y="1139"/><use href="#x" x="1354" y="1123"/><use href="#x" x="1357" y="1101"/><use href="#x" x="1360" y="1167"/><use href="#x" x="1363" y="1139"/><use href="#x" x="1366" y="1139"/><use href="#x" x="1369" y="1111"/><use href="#x" x="1372" y="1139"/><use href="#x" x="1375" y="1086"/><use href="#x" x="1378" y="1086"/><use href="#x" x="1381" y="1141"/><use href="#x" x="1384" y="1152"/><use href="#x" x="1388" y="1146"/><use href="#x" x="1391" y="1154"/><use href="#x" x="1394" y="1121"/><use href="#x" x="1397" y="1129"/><use href="#x" x="1400" y="1121"/><use href="#x" x="1403" y="1094"/><use href="#x" x="1406" y="1097"/><use href="#x" x="1409" y="1172"/><use href="#x" x="1412" y="1129"/><use href="#x" x="1415" y="1125"/><use href="#x" x="1418" y="1123"/>
</g>
<rect x="169" y="1511" width="541" height="1" fill="#000"/>
<rect x="169" y="1961" width="541" height="1" fill="#000"/>
<rect x="169" y="1511" width="1" height="451" fill="#000"/>
<rect x="709" y="1511" width="1" height="451" fill="#000"/>
<rect x="168" y="1497" width="2" height="15" fill="#000"/>
<rect x="348" y="1497" width="2" height="15" fill="#000"/>
<rect x="528" y="1497" width="2" height="15" fill="#000"/>
<rect x="708" y="1497" width="2" height="15" fill="#000"/>
<rect x="258" y="1504" width="2" height="8" fill="#000"/>
<rect x="438" y="1504" width="2" height="8" fill="#000"/>
<rect x="618" y="1504" width="2" height="8" fill="#000"/>
<rect x="168" y="1960" width="2" height="15" fill="#000"/>
<rect x="348" y="1960" width="2" height="15" fill="#000"/>
<rect x="528" y="1960" width="2" height="15" fill="#000"/>
<rect x="708" y="1960" width="2" height="15" fill="#000"/>
<rect x="258" y="1960" width="2" height="8" fill="#000"/>
<rect x="438" y="1960" width="2" height="8" fill="#000"/>
<rect x="618" y="1960" width="2" height="8" fill="#000"/>
<rect x="155" y="1585" width="15" height="2" fill="#000"/>
<rect x="155" y="1735" width="15" height="2" fill="#000"/>
<rect x="155" y="1885" width="15" height="2" fill="#000"/>
<rect x="162" y="1510" width="8" height="2" fill="#000"/>
<rect x="162" y="1660" width="8" height="2" fill="#000"/>
<rect x="162" y="1810" width="8" height="2" fill="#000"/>
<rect x="162" y="1960" width="8" height="2" fill="#000"/>
<rect x="708" y="1585" width="15" height="2" fill="#000"/>
<rect x="708" y="1735" width="15" height="2" fill="#000"/>
<rect x="708" y="1885" width="15" height="2" fill="#000"/>
<rect x="708" y="1510" width="8" height="2" fill="#000"/>
<rect x="708" y="1660" width="8" height="2" fill="#000"/>
<rect x="708" y="1810" width="8" height="2" fill="#000"/>
<rect x="708" y="1960" width="8" height="2" fill="#000"/>
<text transform="translate(143.8 1597.2) scale(1 1.045)" font-size="30" text-anchor="end" fill="#000" ><tspan dy="2.3">−</tspan><tspan dy="-2.3">14</tspan></text>
<text transform="translate(143.8 1747.2) scale(1 1.045)" font-size="30" text-anchor="end" fill="#000" ><tspan dy="2.3">−</tspan><tspan dy="-2.3">15</tspan></text>
<text transform="translate(143.8 1897.2) scale(1 1.045)" font-size="30" text-anchor="end" fill="#000" ><tspan dy="2.3">−</tspan><tspan dy="-2.3">16</tspan></text>
<text transform="translate(169.5 2007.8) scale(1 1.045)" font-size="30" text-anchor="middle" fill="#000" >3</text>
<text transform="translate(349.5 2007.8) scale(1 1.045)" font-size="30" text-anchor="middle" fill="#000" >4</text>
<text transform="translate(529.5 2007.8) scale(1 1.045)" font-size="30" text-anchor="middle" fill="#000" >5</text>
<text transform="translate(709.5 2007.8) scale(1 1.045)" font-size="30" text-anchor="middle" fill="#000" >6</text>
<text transform="translate(439.6 2038.7) scale(1 1.045)" font-size="30" font-weight="bold" text-anchor="middle" fill="#000" >Averaging time, log(<tspan font-family="Liberation Serif" font-weight="normal" stroke-width="0">τ</tspan>) (s)</text>
<text transform="translate(83.3 1735.8) rotate(-90) scale(1 1.045)" font-size="30" font-weight="bold" text-anchor="middle" fill="#000" >Modified Allan Deviation (10<tspan font-size="21" dy="-9.6">-15</tspan><tspan dy="9.6">)</tspan></text>
<text transform="translate(214.2 1554.2) scale(1 1.045)" font-size="17.8" text-anchor="start" fill="#000" ><tspan font-family="Liberation Serif" font-weight="normal" stroke-width="0">τ</tspan><tspan x="9.1"> = 7200s</tspan></text>
<circle cx="323.1" cy="1630.8" r="6.3"/>
<text transform="translate(323.1 1615.8999999999999) scale(1 1.045)" font-size="18.75" font-weight="bold" text-anchor="middle" fill="#f00" >5.0</text>
<circle cx="377.5" cy="1657" r="6.3"/>
<text transform="translate(377.5 1642.1) scale(1 1.045)" font-size="18.75" font-weight="bold" text-anchor="middle" fill="#f00" >3.4</text>
<circle cx="431.9" cy="1711.4" r="6.3"/>
<text transform="translate(431.9 1696.5) scale(1 1.045)" font-size="18.75" font-weight="bold" text-anchor="middle" fill="#f00" >1.5</text>
<circle cx="486.1" cy="1734.8" r="6.3"/>
<text transform="translate(486.1 1719.8999999999999) scale(1 1.045)" font-size="18.75" font-weight="bold" text-anchor="middle" fill="#f00" >1.0</text>
<circle cx="539.9" cy="1749.9" r="6.3"/>
<text transform="translate(539.9 1735.0) scale(1 1.045)" font-size="18.75" font-weight="bold" text-anchor="middle" fill="#f00" >0.8</text>
<circle cx="594" cy="1758.8" r="6.3"/>
<text transform="translate(594 1743.8999999999999) scale(1 1.045)" font-size="18.75" font-weight="bold" text-anchor="middle" fill="#f00" >0.7</text>
<circle cx="648.4" cy="1741.7" r="6.3"/>
<text transform="translate(648.4 1726.8) scale(1 1.045)" font-size="18.75" font-weight="bold" text-anchor="middle" fill="#f00" >0.9</text>
<clipPath id="c3"><rect x="169" y="1511" width="541" height="451"/></clipPath>
<circle cx="215" cy="1961.5" r="4.4" clip-path="url(#c3)"/>
<text transform="translate(215.25 1946.1) scale(1 1.045)" font-size="18.75" font-weight="bold" text-anchor="middle" fill="#f00" letter-spacing="0.5">h/2</text>
<circle cx="269" cy="1961.5" r="4.4" clip-path="url(#c3)"/>
<text transform="translate(269.25 1946.1) scale(1 1.045)" font-size="18.75" font-weight="bold" text-anchor="middle" fill="#f00" letter-spacing="0.5">h</text>
<circle cx="355" cy="1961.5" r="4.4" clip-path="url(#c3)"/>
<text transform="translate(355.25 1946.1) scale(1 1.045)" font-size="18.75" font-weight="bold" text-anchor="middle" fill="#f00" letter-spacing="0.5">d/8</text>
<circle cx="409" cy="1961.5" r="4.4" clip-path="url(#c3)"/>
<text transform="translate(409.25 1946.1) scale(1 1.045)" font-size="18.75" font-weight="bold" text-anchor="middle" fill="#f00" letter-spacing="0.5">d/4</text>
<circle cx="463.3" cy="1961.5" r="4.4" clip-path="url(#c3)"/>
<text transform="translate(463.55 1946.1) scale(1 1.045)" font-size="18.75" font-weight="bold" text-anchor="middle" fill="#f00" letter-spacing="0.5">d/2</text>
<circle cx="517.7" cy="1961.5" r="4.4" clip-path="url(#c3)"/>
<text transform="translate(517.95 1946.1) scale(1 1.045)" font-size="18.75" font-weight="bold" text-anchor="middle" fill="#f00" letter-spacing="0.5">day</text>
<circle cx="603.4" cy="1961.5" r="4.4" clip-path="url(#c3)"/>
<text transform="translate(603.65 1946.1) scale(1 1.045)" font-size="18.75" font-weight="bold" text-anchor="middle" fill="#f00" letter-spacing="0.5">ddd</text>
<circle cx="669.5" cy="1961.5" r="4.4" clip-path="url(#c3)"/>
<text transform="translate(669.75 1946.1) scale(1 1.045)" font-size="18.75" font-weight="bold" text-anchor="middle" fill="#f00" letter-spacing="0.5">wk</text>
<rect x="853" y="1511" width="541" height="1" fill="#000"/>
<rect x="853" y="1961" width="541" height="1" fill="#000"/>
<rect x="853" y="1511" width="1" height="451" fill="#000"/>
<rect x="1393" y="1511" width="1" height="451" fill="#000"/>
<rect x="894" y="1497" width="2" height="15" fill="#000"/>
<rect x="1060" y="1497" width="2" height="15" fill="#000"/>
<rect x="1226" y="1497" width="2" height="15" fill="#000"/>
<rect x="1392" y="1497" width="2" height="15" fill="#000"/>
<rect x="977" y="1504" width="2" height="8" fill="#000"/>
<rect x="1143" y="1504" width="2" height="8" fill="#000"/>
<rect x="1309" y="1504" width="2" height="8" fill="#000"/>
<rect x="894" y="1960" width="2" height="15" fill="#000"/>
<rect x="1060" y="1960" width="2" height="15" fill="#000"/>
<rect x="1226" y="1960" width="2" height="15" fill="#000"/>
<rect x="1392" y="1960" width="2" height="15" fill="#000"/>
<rect x="977" y="1960" width="2" height="8" fill="#000"/>
<rect x="1143" y="1960" width="2" height="8" fill="#000"/>
<rect x="1309" y="1960" width="2" height="8" fill="#000"/>
<rect x="840" y="1600" width="14" height="2" fill="#000"/>
<rect x="840" y="1780" width="14" height="2" fill="#000"/>
<rect x="840" y="1960" width="14" height="2" fill="#000"/>
<rect x="846" y="1510" width="8" height="2" fill="#000"/>
<rect x="846" y="1690" width="8" height="2" fill="#000"/>
<rect x="846" y="1870" width="8" height="2" fill="#000"/>
<rect x="1392" y="1600" width="15" height="2" fill="#000"/>
<rect x="1392" y="1780" width="15" height="2" fill="#000"/>
<rect x="1392" y="1960" width="15" height="2" fill="#000"/>
<rect x="1392" y="1510" width="8" height="2" fill="#000"/>
<rect x="1392" y="1690" width="8" height="2" fill="#000"/>
<rect x="1392" y="1870" width="8" height="2" fill="#000"/>
<text transform="translate(827.8 1612.2) scale(1 1.045)" font-size="30" text-anchor="end" fill="#000" ><tspan dy="2.3">−</tspan><tspan dy="-2.3">9</tspan></text>
<text transform="translate(827.8 1792.2) scale(1 1.045)" font-size="30" text-anchor="end" fill="#000" ><tspan dy="2.3">−</tspan><tspan dy="-2.3">10</tspan></text>
<text transform="translate(827.8 1972.2) scale(1 1.045)" font-size="30" text-anchor="end" fill="#000" ><tspan dy="2.3">−</tspan><tspan dy="-2.3">11</tspan></text>
<text transform="translate(894.5384615384615 2007.6) scale(1 1.045)" font-size="30" text-anchor="middle" fill="#000" >3</text>
<text transform="translate(1060.6923076923076 2007.6) scale(1 1.045)" font-size="30" text-anchor="middle" fill="#000" >4</text>
<text transform="translate(1226.8461538461538 2007.6) scale(1 1.045)" font-size="30" text-anchor="middle" fill="#000" >5</text>
<text transform="translate(1393.0 2007.6) scale(1 1.045)" font-size="30" text-anchor="middle" fill="#000" >6</text>
<text transform="translate(1123.6 2038.5) scale(1 1.045)" font-size="30" font-weight="bold" text-anchor="middle" fill="#000" >Averaging time, log(<tspan font-family="Liberation Serif" font-weight="normal" stroke-width="0">τ</tspan>) (s)</text>
<text transform="translate(767 1735) rotate(-90) scale(1 1.045)" font-size="30" font-weight="bold" text-anchor="middle" fill="#000" >Time deviation (10<tspan font-size="21" dy="-9.6">-10</tspan><tspan dy="9.6"> s)</tspan></text>
<circle cx="1037.0" cy="1903.5" r="6.3"/>
<text transform="translate(1037.4 1884.9) scale(1 1.045)" font-size="17.5" text-anchor="middle" fill="#f00" stroke="#f00" stroke-width="0.35" >0.2</text>
<circle cx="1086.8" cy="1880.6" r="6.3"/>
<text transform="translate(1087.2 1862.0) scale(1 1.045)" font-size="17.5" text-anchor="middle" fill="#f00" stroke="#f00" stroke-width="0.35" >0.3</text>
<circle cx="1136.8" cy="1891.8" r="6.3"/>
<text transform="translate(1137.2 1873.2) scale(1 1.045)" font-size="17.5" text-anchor="middle" fill="#f00" stroke="#f00" stroke-width="0.35" >0.2</text>
<circle cx="1187" cy="1866" r="6.3"/>
<text transform="translate(1187.4 1847.4) scale(1 1.045)" font-size="17.5" text-anchor="middle" fill="#f00" stroke="#f00" stroke-width="0.35" >0.3</text>
<circle cx="1237" cy="1829.4" r="6.3"/>
<text transform="translate(1237.4 1810.8000000000002) scale(1 1.045)" font-size="17.5" text-anchor="middle" fill="#f00" stroke="#f00" stroke-width="0.35" >0.5</text>
<circle cx="1287" cy="1786.2" r="6.3"/>
<text transform="translate(1287.4 1767.6000000000001) scale(1 1.045)" font-size="17.5" text-anchor="middle" fill="#f00" stroke="#f00" stroke-width="0.35" >0.9</text>
<circle cx="1337" cy="1711.5" r="6.3"/>
<text transform="translate(1337.4 1692.9) scale(1 1.045)" font-size="17.5" text-anchor="middle" fill="#f00" stroke="#f00" stroke-width="0.35" >2.4</text>
<clipPath id="c4"><rect x="853" y="1511" width="541" height="451"/></clipPath>
<circle cx="937" cy="1959.4" r="6.3" clip-path="url(#c4)"/>
<text transform="translate(937.25 1942.4) scale(1 1.045)" font-size="18.75" font-weight="bold" text-anchor="middle" fill="#f00" letter-spacing="0.5">h/2</text>
<circle cx="987" cy="1959.4" r="6.3" clip-path="url(#c4)"/>
<text transform="translate(987.25 1942.4) scale(1 1.045)" font-size="18.75" font-weight="bold" text-anchor="middle" fill="#f00" letter-spacing="0.5">h</text>
<circle cx="1066.4" cy="1959.4" r="6.3" clip-path="url(#c4)"/>
<text transform="translate(1066.65 1942.4) scale(1 1.045)" font-size="18.75" font-weight="bold" text-anchor="middle" fill="#f00" letter-spacing="0.5">d/8</text>
<circle cx="1116.2" cy="1959.4" r="6.3" clip-path="url(#c4)"/>
<text transform="translate(1116.45 1942.4) scale(1 1.045)" font-size="18.75" font-weight="bold" text-anchor="middle" fill="#f00" letter-spacing="0.5">d/4</text>
<circle cx="1166.3" cy="1959.4" r="6.3" clip-path="url(#c4)"/>
<text transform="translate(1166.55 1942.4) scale(1 1.045)" font-size="18.75" font-weight="bold" text-anchor="middle" fill="#f00" letter-spacing="0.5">d/2</text>
<circle cx="1216.3" cy="1959.4" r="6.3" clip-path="url(#c4)"/>
<text transform="translate(1216.55 1942.4) scale(1 1.045)" font-size="18.75" font-weight="bold" text-anchor="middle" fill="#f00" letter-spacing="0.5">day</text>
<circle cx="1295.5" cy="1959.4" r="6.3" clip-path="url(#c4)"/>
<text transform="translate(1295.75 1942.4) scale(1 1.045)" font-size="18.75" font-weight="bold" text-anchor="middle" fill="#f00" letter-spacing="0.5">ddd</text>
<circle cx="1357" cy="1959.4" r="6.3" clip-path="url(#c4)"/>
<text transform="translate(1357.25 1942.4) scale(1 1.045)" font-size="18.75" font-weight="bold" text-anchor="middle" fill="#f00" letter-spacing="0.5">wk</text>
</svg>
</body></html>
